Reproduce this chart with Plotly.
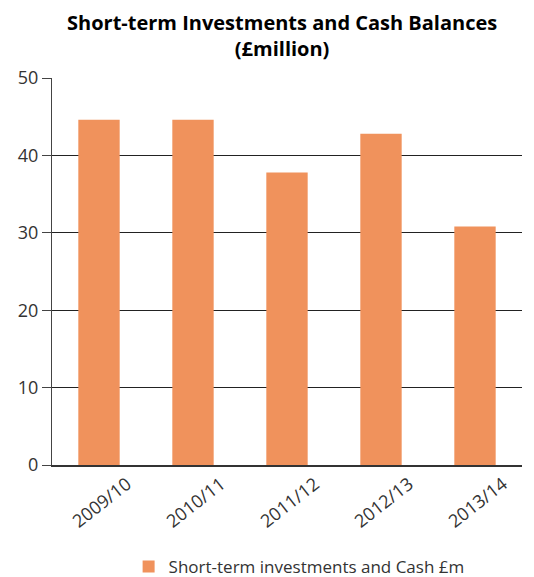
import plotly.graph_objects as go

categories = ["2009/10", "2010/11", "2011/12", "2012/13", "2013/14"]
values = [44.6, 44.6, 37.8, 42.8, 30.8]
series_name = "Short-term investments and Cash £m"
y_ticks = [0, 10, 20, 30, 40, 50]
title_text = "<b>Short-term Investments and Cash Balances<br>(£million)</b>"

fig = go.Figure()
fig.add_trace(go.Bar(
    x=categories, y=values, name=series_name,
    marker=dict(color="#F0925C", line=dict(width=0)),
    width=0.44,
))

font_family = "Open Sans, Noto Sans, DejaVu Sans, sans-serif"
fig.update_layout(
    width=534, height=577,
    margin=dict(l=52, r=12, t=78, b=112, autoexpand=False),
    paper_bgcolor="white", plot_bgcolor="white",
    showlegend=True,
    legend=dict(
        orientation="h", x=0.163, xanchor="left", y=-0.2636, yanchor="middle",
        font=dict(family=font_family, size=17, color="#333333"),
    ),
    font=dict(family=font_family, size=18, color="#333333"),
)
fig.add_annotation(
    text=title_text, xref="paper", yref="paper", x=0.489, y=1.111,
    xanchor="center", yanchor="middle", showarrow=False,
    font=dict(family=font_family, size=20, color="#000000"),
)
fig.update_yaxes(
    range=[0, 50], tickvals=y_ticks,
    showgrid=True, gridcolor="#222222", gridwidth=1.2,
    showline=True, linecolor="#444444", linewidth=1,
    ticks="outside", ticklen=9, tickcolor="#444444",
    tickfont=dict(size=18, color="#333333"),
    zeroline=False, automargin=False,
)
fig.update_xaxes(
    showline=True, linecolor="#333333", linewidth=1.5,
    ticks="", tickangle=-38, ticklabelshift=28,
    tickfont=dict(size=18, color="#333333"),
    automargin=False,
)
fig.write_html("out.html")
